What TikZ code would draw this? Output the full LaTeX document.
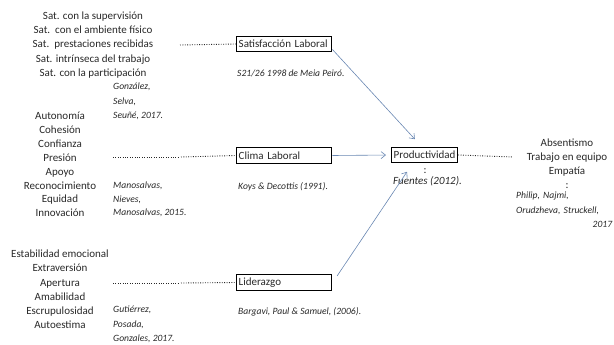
\documentclass[tikz,border=0pt]{standalone}
\usepackage{fontspec}
\setmainfont{Carlito}
\usetikzlibrary{arrows.meta}
\definecolor{arrowblue}{RGB}{105,135,178}
\definecolor{inkgray}{RGB}{40,40,40}
\begin{document}
\begin{tikzpicture}[
	                 x = 1pt,
	                 y = -1pt,
	                 > = {Straight Barb[length=4.5pt,width=7pt]},
	 every node/.style = {inner sep=0pt, text=inkgray},
	      list/.style = {align=center, font=\fontsize{11}{14.1}\selectfont},
	     boxed/.style = {draw=black, line width=1.4pt, minimum height=15.5pt, inner xsep=2pt,
	                     anchor=west, font=\fontsize{11}{12}\selectfont},
	       ref/.style = {anchor=west, font=\fontsize{9.6}{10}\selectfont\itshape},
	      cite/.style = {anchor=west, align=left, font=\fontsize{9.6}{14.3}\selectfont\itshape},
	      flow/.style = {->, draw=arrowblue, line width=0.6pt},
	    leader/.style = {draw=inkgray, line width=0.9pt, dash pattern=on 0.9pt off 1.5pt},
	                    ]
	\useasboundingbox (0,0) rectangle (614,345);
	% satisfaccion
	\node[list] (satlist) at (93,45) {Sat. con la supervisión\\Sat.\ \ con el ambiente físico\\Sat.\ \ prestaciones recibidas\\Sat. intrínseca del trabajo\\Sat. con la participación};
	\node[boxed, text width=91pt] (satbox) at (236,44) {Satisfacción Laboral};
	\node[ref] (satref) at (237,73) {S21/26 1998 de Meia Peiró.};
	\node[cite] (satcite) at (113,101.5) {González,\\Selva,\\Seuñé, 2017.};
	\coordinate (satdots) at (180,45);
	\draw[leader] (satdots) -- (satbox.west);
	% clima
	\node[list, font=\fontsize{11}{13.9}\selectfont] (climalist) at (60,164.5) {Autonomía\\Cohesión\\Confianza\\Presión\\Apoyo\\Reconocimiento\\Equidad\\Innovación};
	\node[boxed, text width=91pt] (climabox) at (236,155.5) {Clima Laboral};
	\node[ref] (climaref) at (238,187) {Koys \& Decottis (1991).};
	\node[cite, font=\fontsize{9.6}{13.5}\selectfont\itshape] (climacite) at (113,199.5) {Manosalvas,\\Nieves,\\Manosalvas, 2015.};
	\coordinate (climadots) at (113,157);
	\coordinate (climagapa) at (178,157);
	\coordinate (climagapb) at (181,157);
	\draw[leader] (climadots) -- (climagapa);
	\draw[leader] (climagapb) -- (climabox.west);
	% liderazgo
	\node[list, font=\fontsize{11}{14.2}\selectfont] (lidlist) at (60,289.5) {Estabilidad emocional\\Extraversión\\Apertura\\Amabilidad\\Escrupulosidad\\Autoestima};
	\node[boxed, text width=91pt] (lidbox) at (236,282.5) {Liderazgo};
	\node[ref] (lidref) at (238,312) {Bargavi, Paul \& Samuel, (2006).};
	\node[cite] (lidcite) at (113,324.5) {Gutiérrez,\\Posada,\\Gonzales, 2017.};
	\coordinate (liddots) at (113,283);
	\coordinate (lidgapa) at (178,283);
	\coordinate (lidgapb) at (181,283);
	\draw[leader] (liddots) -- (lidgapa);
	\draw[leader] (lidgapb) -- (lidbox.west);
	% productividad
	\node[boxed] (prodbox) at (391,155) {Productividad};
	\node[font=\fontsize{11}{12}\selectfont] (prodcolon) at (425,171) {:};
	\node[ref, font=\fontsize{11}{12}\selectfont\itshape] (prodref) at (393,181.5) {Fuentes (2012).};
	\node[list] (outlist) at (567,164) {Absentismo\\Trabajo en equipo\\Empatía\\:};
	\node[cite, anchor=north west, text width=96pt] (outcite) at (516,192) {Philip, Najmi,\\Orudzheva, Struckell,\\\hfill 2017};
	\coordinate (outdots) at (513,157);
	\draw[leader] (prodbox.east) -- (outdots);
	% flechas
	\draw[flow, shorten >=10pt] ([yshift=3pt]satbox.south east) -- ([xshift=-3pt]prodbox.north);
	\draw[flow, shorten >=5pt] (climabox.east) -- (prodbox.west);
	\draw[flow, shorten <=3pt, shorten >=10pt] ([xshift=3pt,yshift=4pt]lidbox.east) -- ([xshift=-12pt]prodbox.south);
\end{tikzpicture}
\end{document}
